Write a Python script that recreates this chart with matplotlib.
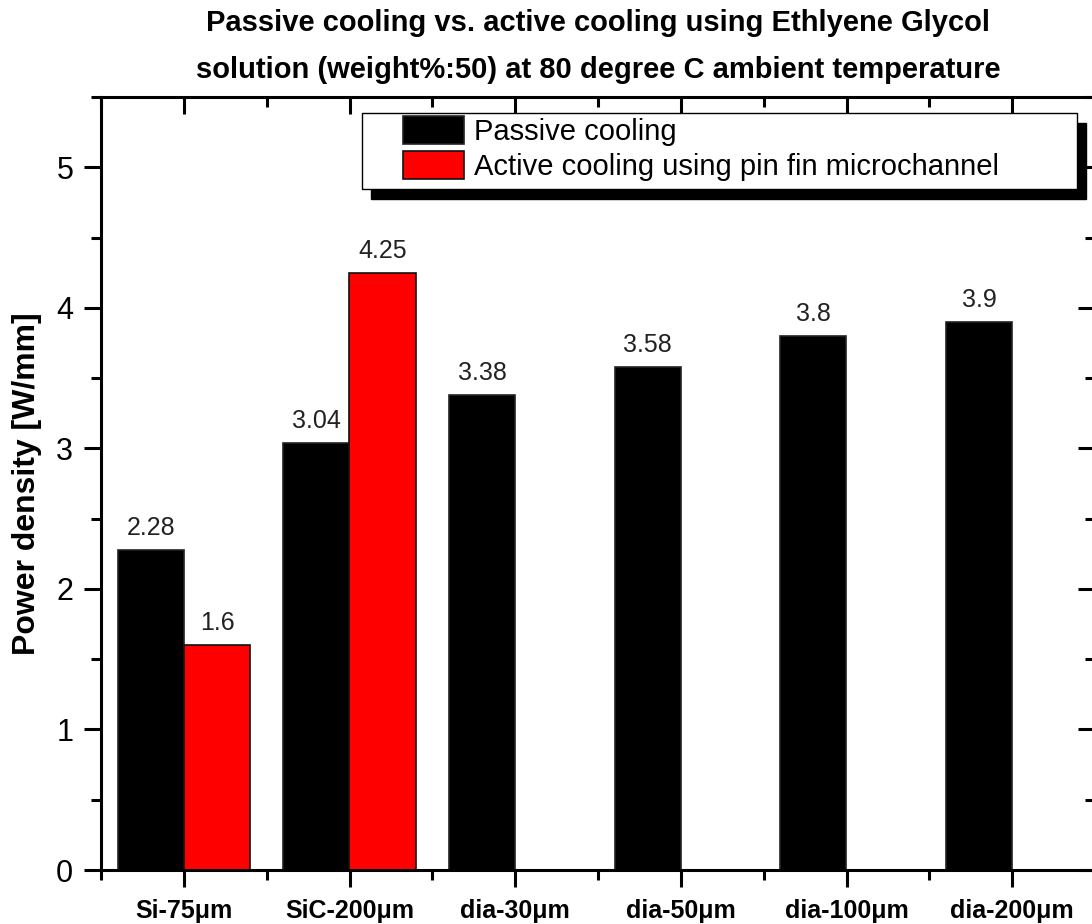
import matplotlib
matplotlib.use("Agg")
import matplotlib.pyplot as plt
from matplotlib.patches import Rectangle
import numpy as np

plt.rcParams['font.family'] = ['Liberation Sans', 'DejaVu Sans']

categories = ["Si-75μm", "SiC-200μm", "dia-30μm", "dia-50μm", "dia-100μm", "dia-200μm"]
passive = [2.28, 3.04, 3.38, 3.58, 3.8, 3.9]
active = [1.6, 4.25, None, None, None, None]
passive_labels = ["2.28", "3.04", "3.38", "3.58", "3.8", "3.9"]
active_labels = ["1.6", "4.25", None, None, None, None]

W, H = 1092, 924
fig = plt.figure(figsize=(W / 100, H / 100), dpi=100)
ax_l, ax_b, ax_w, ax_h = 101, 54, 994, 773
ax = fig.add_axes([ax_l / W, ax_b / H, ax_w / W, ax_h / H])


def px_to_axes(px, py):
    """Convert image pixel coordinates (origin top-left) to axes fraction."""
    return (px - ax_l) / ax_w, ((H - py) - ax_b) / ax_h


x = np.arange(len(categories))
w = 0.4

ax.bar(x - w / 2, passive, w, color="black", edgecolor="#222222", linewidth=1.2,
       label="Passive cooling")
act_idx = [i for i, v in enumerate(active) if v is not None]
ax.bar(x[act_idx] + w / 2, [active[i] for i in act_idx], w, color="#ff0000",
       edgecolor="#111111", linewidth=1.2,
       label="Active cooling using pin fin microchannel")

for i, v in enumerate(passive):
    ax.text(x[i] - w / 2, v + 0.07, passive_labels[i], ha="center", va="bottom",
            fontsize=18, color="#222222")
for i in act_idx:
    ax.text(x[i] + w / 2, active[i] + 0.07, active_labels[i], ha="center", va="bottom",
            fontsize=18, color="#222222")

ax.set_xlim(-0.5, 5.5)
ax.set_ylim(0, 5.5)
ax.set_xticks(x)
ax.set_xticklabels(categories, fontsize=18, fontweight="bold")
ax.set_xticks(np.arange(-0.5, 5.6, 1.0), minor=True)
ax.set_yticks(np.arange(0, 6, 1))
ax.set_yticklabels([str(v) for v in range(6)], fontsize=22)
ax.set_yticks(np.arange(0.5, 5.6, 1.0), minor=True)

for side in ["left", "right", "top", "bottom"]:
    ax.spines[side].set_linewidth(2.2)

ax.tick_params(axis="x", which="major", direction="out", length=12, width=2.2,
               top=True, pad=9)
ax.tick_params(axis="x", which="minor", direction="out", length=7, width=2.2, top=True)
ax.tick_params(axis="y", which="major", direction="out", length=12, width=2.2,
               right=True, pad=8)
ax.tick_params(axis="y", which="minor", direction="out", length=7, width=2.2, right=True)
# ticks on the top and right spines point inward
for t in ax.xaxis.get_major_ticks() + ax.xaxis.get_minor_ticks():
    t.tick2line.set_marker(matplotlib.lines.TICKDOWN)
for t in ax.yaxis.get_major_ticks() + ax.yaxis.get_minor_ticks():
    t.tick2line.set_marker(matplotlib.lines.TICKLEFT)

ax.set_ylabel("Power density [W/mm]", fontsize=23, fontweight="bold", labelpad=10)

ax.set_title("Passive cooling vs. active cooling using Ethlyene Glycol\n"
             "solution (weight%:50) at 80 degree C ambient temperature",
             fontsize=21, fontweight="bold", linespacing=1.85, pad=14)

# legend box with a solid drop shadow
bx0, by0 = px_to_axes(362, 189)
bx1, by1 = px_to_axes(1077, 113)
sx, sy = 9 / ax_w, -10 / ax_h
ax.add_patch(Rectangle((bx0 + sx, by0 + sy), bx1 - bx0, by1 - by0, transform=ax.transAxes,
                       facecolor="black", edgecolor="black", zorder=4, clip_on=False))
ax.add_patch(Rectangle((bx0, by0), bx1 - bx0, by1 - by0, transform=ax.transAxes,
                       facecolor="white", edgecolor="black", linewidth=1.0, zorder=4.5,
                       clip_on=False))

lx, ly = px_to_axes(403, 116)
leg = ax.legend(loc="upper left", bbox_to_anchor=(lx, ly), fontsize=21, frameon=False,
                handlelength=2.1, handleheight=1.1, borderpad=0, labelspacing=0.17,
                handletextpad=0.35, borderaxespad=0)
leg.set_zorder(6)

fig.savefig("out.png", dpi=100)
